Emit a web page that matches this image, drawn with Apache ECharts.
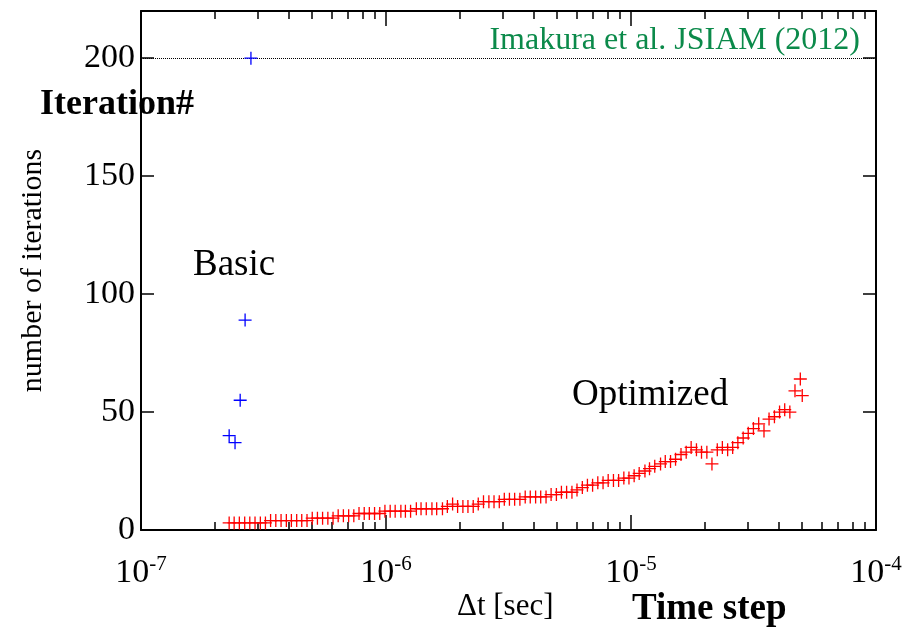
<!DOCTYPE html>
<html><head><meta charset="utf-8">
<script src="https://cdn.jsdelivr.net/npm/echarts@6/dist/echarts.min.js"></script>
<style>html,body{margin:0;padding:0;background:#fff}#c{width:912px;height:629px}</style>
</head><body><div id="c"></div>
<script>
// ---- data ----
const basicDt   = [2.29e-7, 2.42e-7, 2.54e-7, 2.66e-7, 2.81e-7];
const basicIter = [40, 37, 55, 89, 200];

const optDt = [
  2.29e-7, 2.40e-7, 2.52e-7, 2.65e-7, 2.78e-7, 2.92e-7, 3.07e-7, 3.22e-7, 3.38e-7, 3.55e-7,
  3.73e-7, 3.92e-7, 4.11e-7, 4.32e-7, 4.53e-7, 4.76e-7, 5.00e-7, 5.25e-7, 5.51e-7, 5.79e-7,
  6.08e-7, 6.38e-7, 6.70e-7, 7.04e-7, 7.39e-7, 7.76e-7, 8.15e-7, 8.55e-7, 8.98e-7, 9.43e-7,
  9.90e-7, 1.04e-6, 1.09e-6, 1.15e-6, 1.20e-6, 1.26e-6, 1.33e-6, 1.39e-6, 1.46e-6, 1.54e-6,
  1.61e-6, 1.70e-6, 1.78e-6, 1.87e-6, 1.96e-6, 2.06e-6, 2.16e-6, 2.27e-6, 2.38e-6, 2.50e-6,
  2.63e-6, 2.76e-6, 2.90e-6, 3.04e-6, 3.19e-6, 3.35e-6, 3.52e-6, 3.70e-6, 3.88e-6, 4.08e-6,
  4.28e-6, 4.50e-6, 4.72e-6, 4.96e-6, 5.20e-6, 5.46e-6, 5.74e-6, 6.02e-6, 6.33e-6, 6.64e-6,
  6.97e-6, 7.32e-6, 7.69e-6, 8.07e-6, 8.48e-6, 8.90e-6, 9.35e-6, 9.81e-6, 1.03e-5, 1.08e-5,
  1.14e-5, 1.19e-5, 1.25e-5, 1.32e-5, 1.38e-5, 1.45e-5, 1.52e-5, 1.60e-5, 1.68e-5, 1.76e-5,
  1.85e-5, 1.94e-5, 2.04e-5, 2.14e-5, 2.25e-5, 2.36e-5, 2.48e-5, 2.60e-5, 2.73e-5, 2.87e-5,
  3.01e-5, 3.16e-5, 3.32e-5, 3.49e-5, 3.66e-5, 3.85e-5, 4.04e-5, 4.24e-5, 4.45e-5, 4.67e-5,
  4.91e-5, 5.00e-5
];
const optIter = [
  3, 3, 3, 3, 3, 3, 3, 3, 4, 4,
  4, 4, 4, 4, 4, 4, 5, 5, 5, 5,
  5, 6, 6, 6, 6, 7, 7, 7, 7, 7,
  8, 8, 8, 8, 8, 8, 9, 9, 9, 9,
  9, 9, 10, 11, 10, 10, 10, 10, 11, 12,
  12, 12, 12, 13, 13, 13, 13, 14, 14, 14,
  14, 14, 15, 15, 16, 16, 16, 17, 18, 19,
  19, 20, 20, 21, 21, 21, 22, 22, 23, 24,
  25, 26, 27, 28, 29, 29, 30, 32, 33, 35,
  34, 33, 33, 28, 34, 35, 34, 35, 37, 39,
  41, 43, 45, 42, 47, 48, 50, 51, 50, 59,
  64, 57
];

const yTicks = [0, 50, 100, 150, 200];
const xMajor = [1e-7, 1e-6, 1e-5, 1e-4];
const xMinor = [
  2e-7, 3e-7, 4e-7, 5e-7, 6e-7, 7e-7, 8e-7, 9e-7,
  2e-6, 3e-6, 4e-6, 5e-6, 6e-6, 7e-6, 8e-6, 9e-6,
  2e-5, 3e-5, 4e-5, 5e-5, 6e-5, 7e-5, 8e-5, 9e-5
];
const maxIterLine = 200;

const labels = {
  source: 'Imakura et al. JSIAM (2012)',
  basic: 'Basic',
  optimized: 'Optimized',
  yTitle: 'number of iterations',
  yHeader: 'Iteration#',
  xUnit: 'Δt [sec]',
  xHeader: 'Time step'
};

// ---- chart ----
const SERIF = '"Liberation Serif", "DejaVu Serif", serif';
const plus = 'path://M0,9H20V11H0Z M9,0H11V20H9Z';
const chart = echarts.init(document.getElementById('c'), null, {renderer: 'canvas'});

function xAxisDef(pos, major, showLabel) {
  return {
    type: 'log', logBase: 10, min: 1e-7, max: 1e-4, position: pos,
    axisLine: {show: major, onZero: false, lineStyle: {color: '#000', width: 2}},
    axisTick: major
      ? {show: true, inside: true, length: 15, customValues: xMajor, lineStyle: {color: '#000', width: 1.5}}
      : {show: true, inside: true, length: 8, customValues: xMinor, lineStyle: {color: '#000', width: 1.5}},
    axisLabel: showLabel ? {
      show: true, margin: 24, customValues: xMajor,
      formatter: v => '{b|10}{s|' + Math.round(Math.log10(v)) + '}',
      rich: {
        b: {fontFamily: SERIF, fontSize: 34, color: '#000'},
        s: {fontFamily: SERIF, fontSize: 21, color: '#000', padding: [0, 0, 18, 0]}
      }
    } : {show: false},
    splitLine: {show: false}, minorTick: {show: false}
  };
}

function yAxisDef(pos, showLabel) {
  return {
    type: 'value', min: 0, max: 220, interval: 50, position: pos,
    axisLine: {show: true, onZero: false, lineStyle: {color: '#000', width: 2}},
    axisTick: {show: true, inside: true, length: 13, customValues: yTicks, lineStyle: {color: '#000', width: 1.5}},
    axisLabel: showLabel ? {
      show: true, margin: 6, customValues: yTicks,
      fontFamily: SERIF, fontSize: 34, color: '#000'
    } : {show: false},
    splitLine: {show: false},
    name: showLabel ? labels.yTitle : '',
    nameLocation: 'middle', nameGap: 93, nameRotate: 90,
    nameTextStyle: {fontFamily: SERIF, fontSize: 30, color: '#000'}
  };
}

const option = {
  backgroundColor: '#fff',
  animation: false,
  grid: {left: 141, right: 36, top: 11, bottom: 99, containLabel: false},
  xAxis: [
    xAxisDef('bottom', true, true),
    xAxisDef('bottom', false, false),
    xAxisDef('top', true, false),
    xAxisDef('top', false, false)
  ],
  yAxis: [yAxisDef('left', true), yAxisDef('right', false)],
  series: [
    {
      type: 'scatter', name: labels.optimized, xAxisIndex: 0, yAxisIndex: 0,
      symbol: plus, symbolSize: 13,
      itemStyle: {color: '#ff0000', opacity: 1},
      data: optDt.map((d, i) => [d, optIter[i]]),
      z: 3
    },
    {
      type: 'scatter', name: labels.basic, xAxisIndex: 0, yAxisIndex: 0,
      symbol: plus, symbolSize: 13,
      itemStyle: {color: '#0000ff', opacity: 1},
      data: basicDt.map((d, i) => [d, basicIter[i]]),
      markLine: {
        silent: true, symbol: 'none', label: {show: false},
        lineStyle: {color: '#000', width: 1, type: [1, 1]},
        data: [{yAxis: maxIterLine}],
        z: 1
      },
      z: 4
    }
  ],
  graphic: [
    {type: 'text', x: 860, y: 41, style: {text: labels.source, font: '32px ' + SERIF, fill: '#0b8a4a', align: 'right', verticalAlign: 'middle'}},
    {type: 'text', x: 193, y: 265, style: {text: labels.basic, font: '37px ' + SERIF, fill: '#000', align: 'left', verticalAlign: 'middle'}},
    {type: 'text', x: 572, y: 395, style: {text: labels.optimized, font: '37px ' + SERIF, fill: '#000', align: 'left', verticalAlign: 'middle'}},
    {type: 'text', x: 40, y: 105, style: {text: labels.yHeader, font: 'bold 36px ' + SERIF, fill: '#000', align: 'left', verticalAlign: 'middle'}},
    {type: 'text', x: 457, y: 607, style: {text: labels.xUnit, font: '31px ' + SERIF, fill: '#000', align: 'left', verticalAlign: 'middle'}},
    {type: 'text', x: 632, y: 609, style: {text: labels.xHeader, font: 'bold 37px ' + SERIF, fill: '#000', align: 'left', verticalAlign: 'middle'}}
  ]
};
chart.setOption(option);
</script>
</body></html>
